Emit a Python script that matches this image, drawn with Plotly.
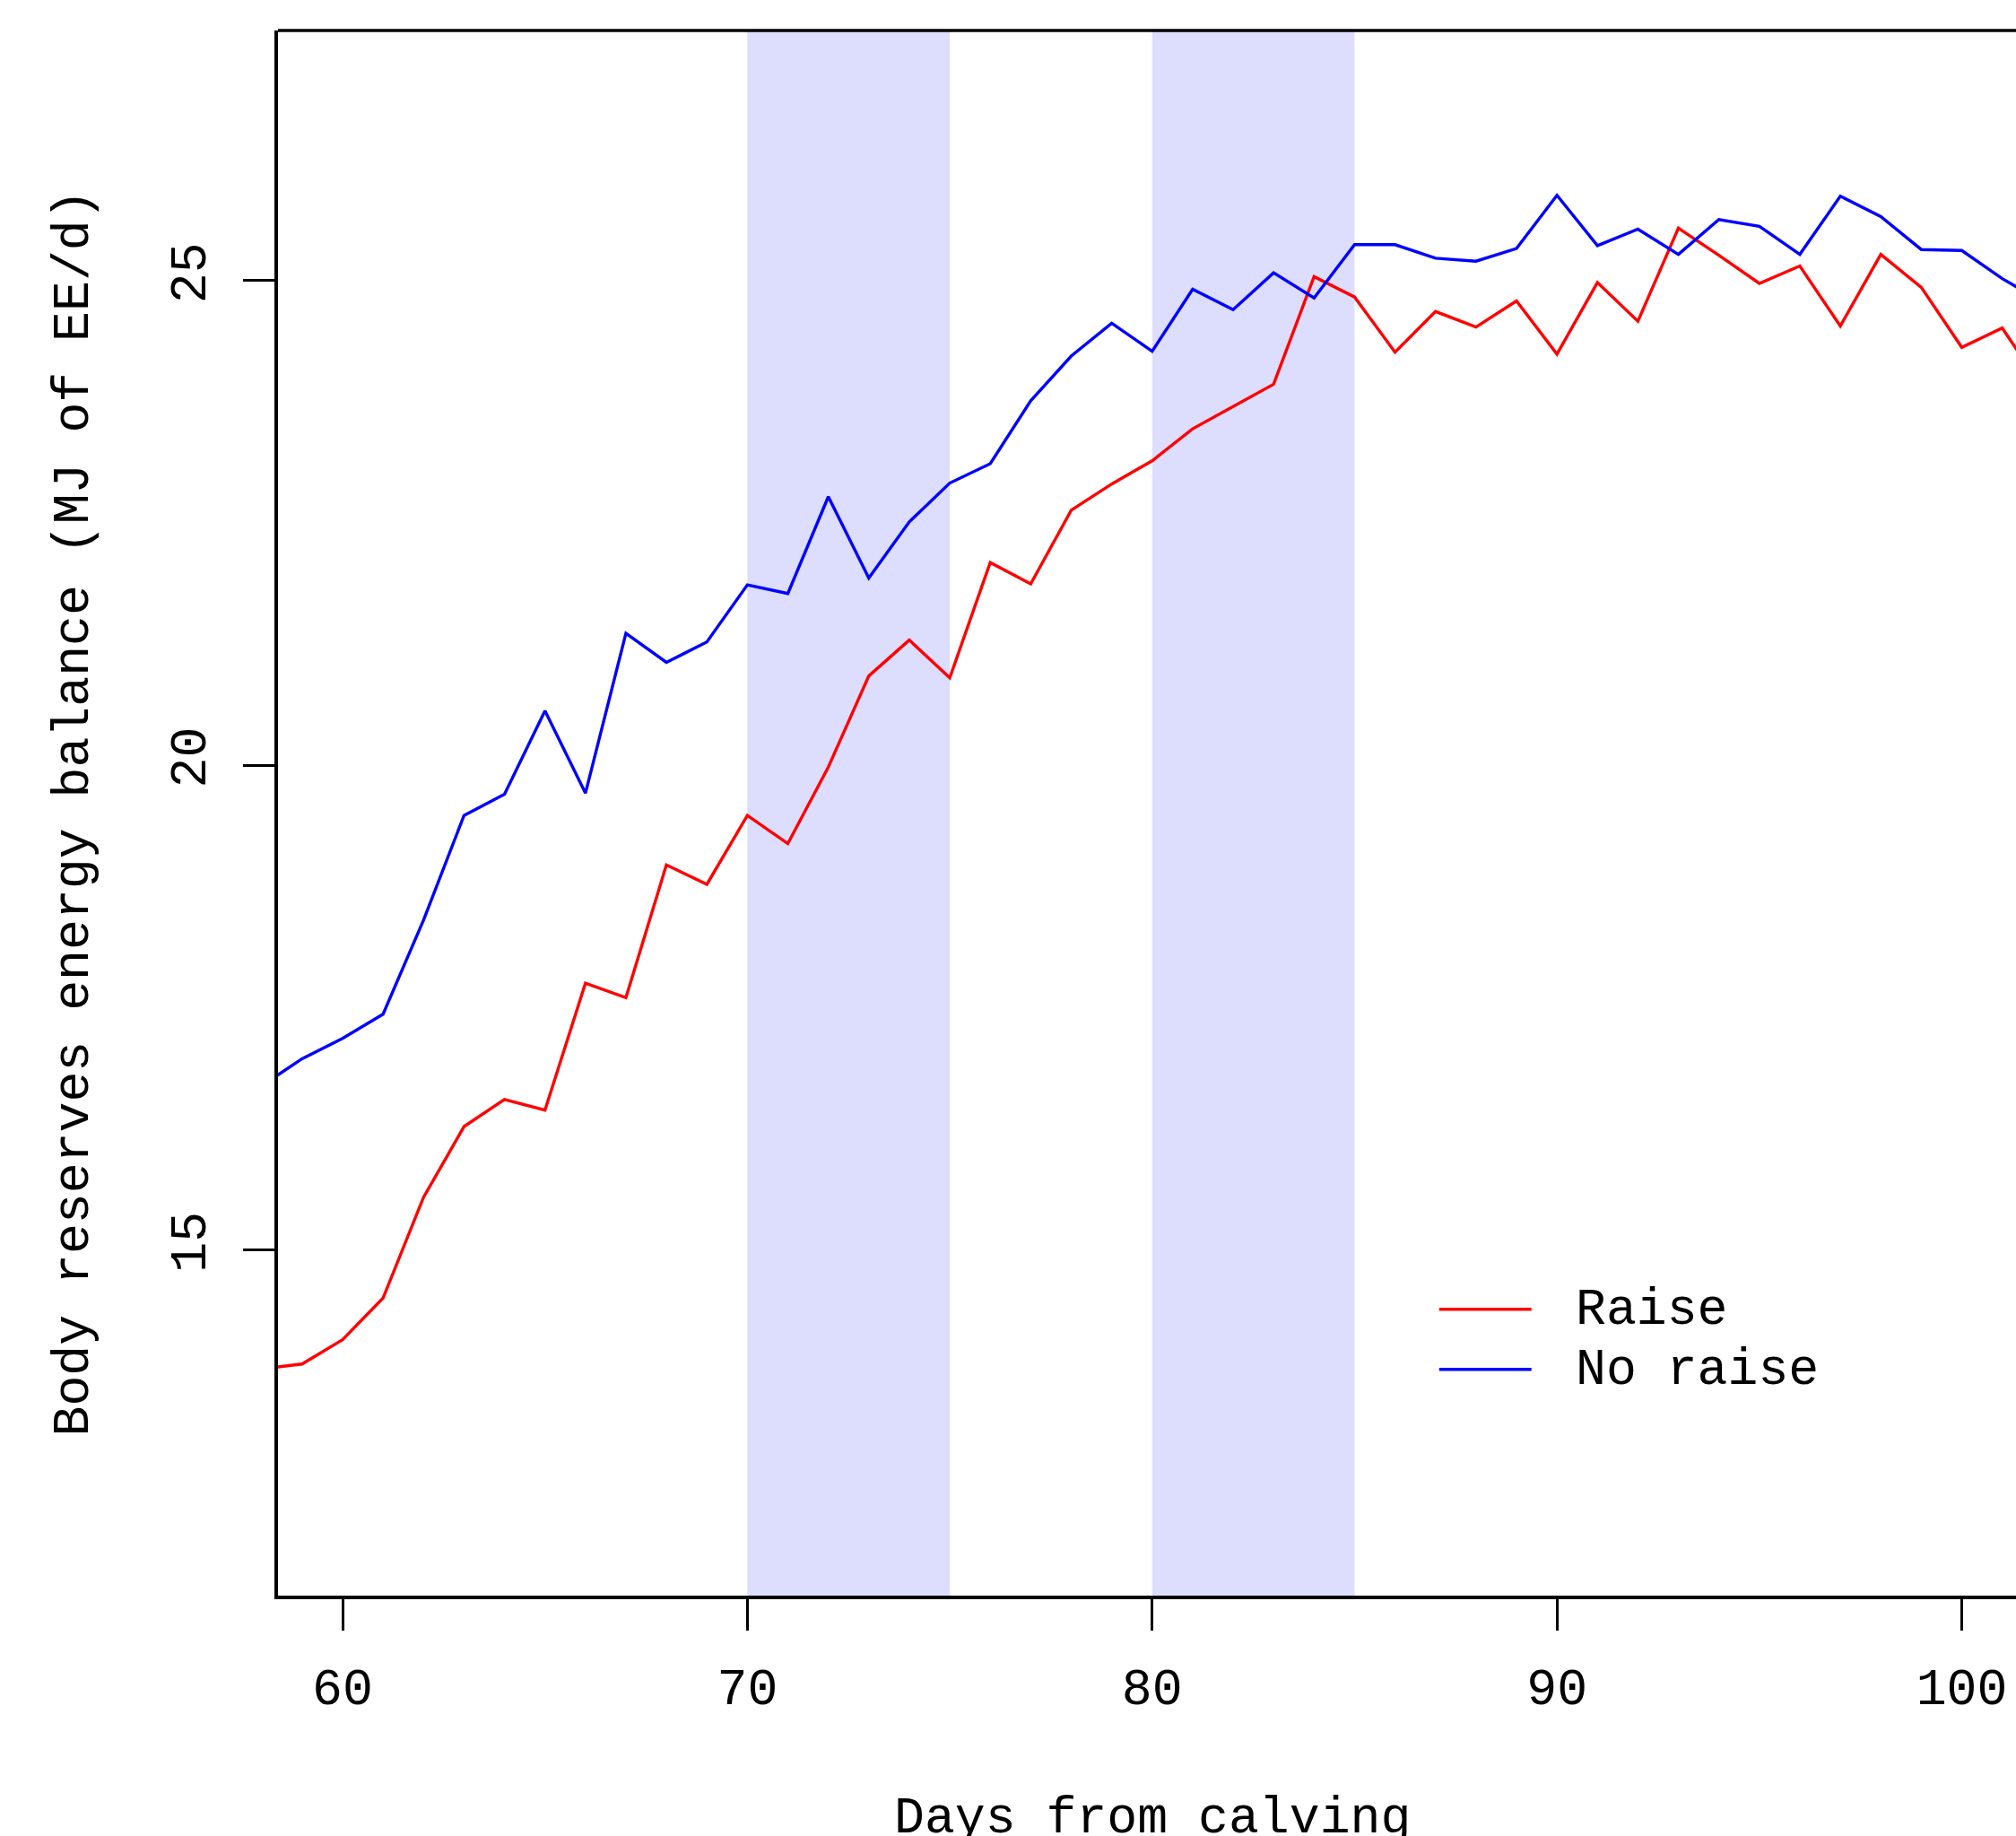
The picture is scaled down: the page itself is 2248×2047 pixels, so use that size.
import plotly.graph_objects as go

# ---- data ----
days = [58, 59, 60, 61, 62, 63, 64, 65, 66, 67, 68, 69, 70, 71, 72, 73, 74, 75, 76, 77,
        78, 79, 80, 81, 82, 83, 84, 85, 86, 87, 88, 89, 90, 91, 92, 93, 94, 95, 96, 97,
        98, 99, 100, 101, 102]
raise_vals = [13.77, 13.82, 14.07, 14.50, 15.54, 16.27, 16.55, 16.44, 17.75, 17.60,
              18.97, 18.77, 19.48, 19.19, 19.98, 20.92, 21.29, 20.90, 22.09, 21.87,
              22.63, 22.90, 23.14, 23.47, 23.70, 23.93, 25.04, 24.83, 24.26, 24.68,
              24.52, 24.79, 24.24, 24.98, 24.58, 25.54, 25.26, 24.97, 25.15, 24.53,
              25.27, 24.93, 24.31, 24.51, 23.89]
no_raise_vals = [16.69, 16.97, 17.18, 17.43, 18.40, 19.48, 19.70, 20.56, 19.71, 21.36,
                 21.06, 21.27, 21.86, 21.77, 22.77, 21.93, 22.51, 22.91, 23.11, 23.76,
                 24.22, 24.56, 24.27, 24.91, 24.70, 25.08, 24.82, 25.37, 25.37, 25.23,
                 25.20, 25.33, 25.88, 25.36, 25.53, 25.27, 25.63, 25.56, 25.27, 25.87,
                 25.66, 25.32, 25.31, 25.02, 24.78]
shade_periods = [(70, 75), (80, 85)]
x_ticks = [60, 70, 80, 90, 100]
y_ticks = [15, 20, 25]
series_names = ["Raise", "No raise"]
series_colors = ["#FF0000", "#0000FF"]

FONT = "Liberation Mono, Courier New, monospace"
FS = 56.5
W, H = 2248, 2047
ML, MT = 310, 34
PLOT_H = 1745
MB = H - MT - PLOT_H
plot_w = W - ML
x_range = [58.405, 101.34]
y_range = [11.43, 27.58]

fig = go.Figure()

for (a, b) in shade_periods:
    fig.add_shape(type="rect", xref="x", yref="paper", x0=a, x1=b, y0=0, y1=1,
                  fillcolor="#DDDDFD", line_width=0, layer="below")

for name, vals, col in zip(series_names, [raise_vals, no_raise_vals], series_colors):
    fig.add_trace(go.Scatter(x=days, y=vals, mode="lines", name=name,
                             line=dict(color=col, width=3.4), showlegend=False))

# top frame line
fig.add_shape(type="line", xref="paper", yref="paper", x0=0, x1=1, y0=1, y1=1,
              line=dict(color="black", width=3.6))

# legend (manual, R style)
leg_x0, leg_x1, leg_tx = 87.09, 89.37, 90.42
leg_y = [14.385, 13.765]
for name, col, yy in zip(series_names, series_colors, leg_y):
    fig.add_shape(type="line", xref="x", yref="y", x0=leg_x0, x1=leg_x1, y0=yy, y1=yy,
                  line=dict(color=col, width=3.4))
    fig.add_annotation(x=leg_tx, y=yy - 0.013, xref="x", yref="y", text=name,
                       showarrow=False, xanchor="left", yanchor="middle",
                       font=dict(family=FONT, size=FS, color="black"))

# axis titles
fig.add_annotation(x=80, y=(1779 - 2028) / PLOT_H, xref="x", yref="paper",
                   text="Days from calving", showarrow=False, xanchor="center",
                   yanchor="middle", font=dict(family=FONT, size=FS, color="black"))
fig.add_annotation(x=(82 - ML) / plot_w, y=0.5, xref="paper", yref="paper",
                   text="Body reserves energy balance (MJ of EE/d)", showarrow=False,
                   textangle=-90, xanchor="center", yanchor="middle",
                   font=dict(family=FONT, size=FS, color="black"))

fig.update_layout(
    width=W, height=H,
    margin=dict(l=ML, r=0, t=MT, b=MB, pad=0),
    paper_bgcolor="white", plot_bgcolor="white",
    font=dict(family=FONT, size=FS, color="black"),
    xaxis=dict(range=x_range, tickvals=x_ticks, ticktext=[str(v) for v in x_ticks],
               showgrid=False, zeroline=False, showline=True, linecolor="black",
               linewidth=3.6, ticks="outside", ticklen=35, tickwidth=3,
               tickcolor="black", ticklabelstandoff=14,
               tickfont=dict(family=FONT, size=FS, color="black")),
    yaxis=dict(range=y_range, tickvals=y_ticks, ticktext=[str(v) for v in y_ticks],
               showgrid=False, zeroline=False, showline=True, linecolor="black",
               linewidth=3.6, ticks="outside", ticklen=35, tickwidth=3,
               tickcolor="black", tickangle=-90, ticklabelstandoff=20,
               tickfont=dict(family=FONT, size=FS, color="black")),
)

# remove the page's default 8px body margin so the figure fills the window exactly
fig.write_html("out.html",
               config={"displayModeBar": False},
               post_script="document.body.style.margin='0';document.body.style.overflow='hidden';")
